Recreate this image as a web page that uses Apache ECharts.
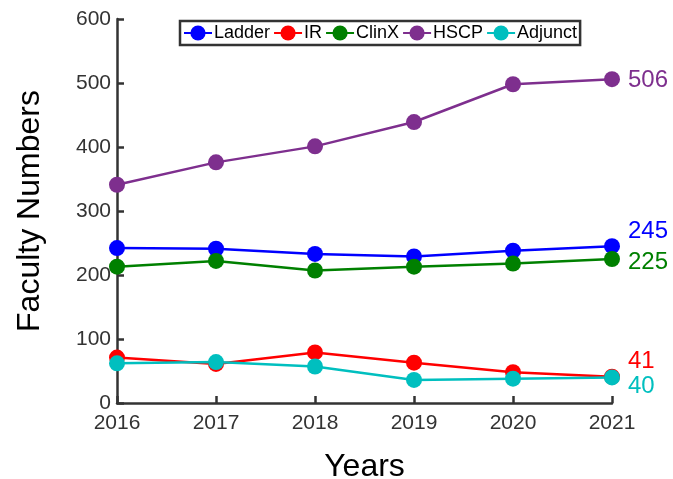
<!DOCTYPE html>
<html><head><meta charset="utf-8">
<script src="https://cdn.jsdelivr.net/npm/echarts@6/dist/echarts.min.js"></script>
<style>html,body{margin:0;padding:0;background:#fff}#c{width:673px;height:479px}</style>
</head><body><div id="c"></div>
<script>
const years = ['2016','2017','2018','2019','2020','2021'];
const ladder = [242, 241, 233, 229, 238, 245];
const ir = [71, 61, 79, 63, 48, 41];
const clinx = [213, 222, 207, 213, 218, 225];
const hscp = [341, 376, 401, 439, 498, 506];
const adjunct = [62, 64, 57, 36, 38, 40];
const yTicks = [0, 100, 200, 300, 400, 500, 600];

const seriesDefs = [
  {name:'Ladder', data:ladder, color:'#0000FF', off:[0,-15]},
  {name:'IR', data:ir, color:'#FF0000', off:[0,-15]},
  {name:'ClinX', data:clinx, color:'#008000', off:[0,3]},
  {name:'HSCP', data:hscp, color:'#7E2F8E', off:[0,1]},
  {name:'Adjunct', data:adjunct, color:'#00BFBF', off:[0,9]}
];
const FONT = 'Liberation Sans, Arial, Helvetica, sans-serif';
const chart = echarts.init(document.getElementById('c'), null, {renderer:'canvas'});
chart.setOption({
  animation:false,
  backgroundColor:'#fff',
  grid:{left:117, right:61, top:19, bottom:76, containLabel:false, outerBoundsMode:'none'},
  legend:{
    left:180, top:21, itemWidth:28, itemHeight:19, itemGap:3,
    padding:[3,3,3,3],
    borderColor:'#333', borderWidth:2.5,
    textStyle:{fontSize:18, color:'#000', fontFamily:FONT, padding:[0,0,0,-3]},
    data: seriesDefs.map(s=>s.name)
  },
  xAxis:{
    type:'category', data:years, boundaryGap:false,
    name:'Years', nameLocation:'middle', nameGap:48,
    nameTextStyle:{fontSize:32, color:'#000', fontFamily:FONT},
    axisLine:{lineStyle:{color:'#333', width:2.5}},
    axisTick:{inside:true, length:7, alignWithLabel:true, lineStyle:{color:'#333', width:2.5}},
    axisLabel:{fontSize:21, color:'#333', fontFamily:FONT, margin:10},
    splitLine:{show:false}
  },
  yAxis:{
    type:'value', min:yTicks[0], max:yTicks[yTicks.length-1], interval:100,
    name:'Faculty Numbers', nameLocation:'middle', nameGap:71,
    nameTextStyle:{fontSize:32, color:'#000', fontFamily:FONT},
    axisLine:{show:true, lineStyle:{color:'#333', width:2.5}},
    axisTick:{show:true, inside:true, length:7, lineStyle:{color:'#333', width:2.5}},
    axisLabel:{fontSize:21, color:'#333', fontFamily:FONT, margin:6},
    splitLine:{show:false}
  },
  series: seriesDefs.map(s=>({
    name:s.name, type:'line', symbol:'circle', symbolSize:16,
    lineStyle:{color:s.color, width:2.5},
    itemStyle:{color:s.color},
    data: s.data.map((v,i)=> i===s.data.length-1 ? {
      value:v,
      label:{show:true, position:'right', distance:8, offset:s.off, color:s.color,
             fontSize:24, fontFamily:FONT, formatter:String(v)}
    } : v)
  }))
});
</script></body></html>
